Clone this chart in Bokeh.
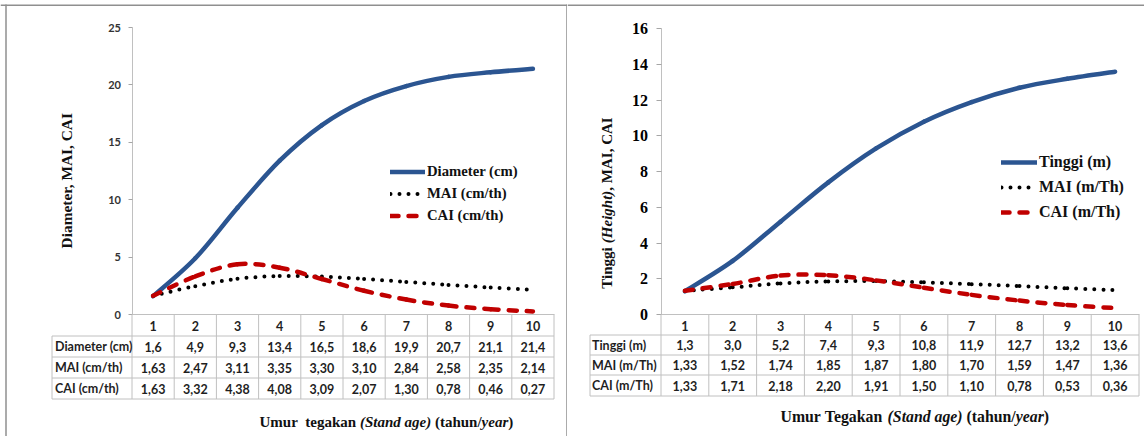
import math
from bokeh.plotting import figure
from bokeh.layouts import row
from bokeh.models import (ColumnDataSource, Range1d, FixedTicker, Label, LabelSet,
                          Arrow, Legend, LegendItem)
from bokeh.embed import file_html
from bokeh.resources import INLINE
from bokeh.core.properties import value

# ---------------- data ----------------
ages = [1, 2, 3, 4, 5, 6, 7, 8, 9, 10]

diameter = [1.6, 4.9, 9.3, 13.4, 16.5, 18.6, 19.9, 20.7, 21.1, 21.4]
mai_cm = [1.63, 2.47, 3.11, 3.35, 3.30, 3.10, 2.84, 2.58, 2.35, 2.14]
cai_cm = [1.63, 3.32, 4.38, 4.08, 3.09, 2.07, 1.30, 0.78, 0.46, 0.27]

tinggi = [1.3, 3.0, 5.2, 7.4, 9.3, 10.8, 11.9, 12.7, 13.2, 13.6]
mai_m = [1.33, 1.52, 1.74, 1.85, 1.87, 1.80, 1.70, 1.59, 1.47, 1.36]
cai_m = [1.33, 1.71, 2.18, 2.20, 1.91, 1.50, 1.10, 0.78, 0.53, 0.36]

row_labels_d = ["Diameter (cm)", "MAI (cm/th)", "CAI (cm/th)"]
row_labels_h = ["Tinggi (m)", "MAI (m/Th)", "CAI (m/Th)"]
legend_d = ["Diameter (cm)", "MAI (cm/th)", "CAI (cm/th)"]
legend_h = ["Tinggi (m)", "MAI (m/Th)", "CAI (m/Th)"]
yticks_d = [0, 5, 10, 15, 20, 25]
yticks_h = [0, 2, 4, 6, 8, 10, 12, 14, 16]

ytitle_d = [("Diameter, MAI, CAI", "bold")]
ytitle_h = [("Tinggi", "bold"), (" (Height)", "bold italic"), (", MAI, CAI", "bold")]
xtitle_d = [("Umur", "bold"), ("  tegakan", "bold"), (" (Stand age)", "bold italic"),
            (" (tahun/", "bold"), ("year", "bold italic"), (")", "bold")]
xtitle_h = [("Umur", "bold"), (" Tegakan", "bold"), (" (Stand age)", "bold italic"),
            (" (tahun/", "bold"), ("year", "bold italic"), (")", "bold")]

BLUE = "#2B5591"
RED = "#C00000"
GRID = "#c0c0c0"
BORDER = "#8f8f8f"
H = 436

# approximate Times bold / bold-italic advance widths (per 1000 em)
TB = {' ': 250, '(': 333, ')': 333, ',': 250, '/': 278, 'A': 722, 'C': 722, 'D': 722,
      'H': 778, 'I': 389, 'M': 944, 'S': 556, 'T': 667, 'U': 722, 'a': 500, 'c': 444,
      'd': 556, 'e': 444, 'g': 500, 'h': 556, 'i': 278, 'k': 556, 'm': 833, 'n': 556,
      'r': 444, 't': 333, 'u': 556, 'y': 500}
TBI = {' ': 250, '(': 333, ')': 333, 'H': 778, 'S': 556, 'a': 500, 'd': 500, 'e': 444,
       'g': 500, 'h': 556, 'i': 278, 'n': 556, 'r': 389, 't': 278, 'y': 444}


def text_width(s, style, size):
    tab = TBI if "italic" in style else TB
    return sum(tab.get(ch, 500) for ch in s) / 1000.0 * size


def place(pieces, size):
    out, off = [], 0.0
    for s, st in pieces:
        lead = len(s) - len(s.lstrip(' '))
        core = s.strip(' ')
        if core:
            out.append((off + text_width(s[:lead], st, size), core, st))
        off += text_width(s, st, size)
    return out, off


def bezier_source(xs, ys):
    n = len(xs)
    d = dict(x0=[], y0=[], x1=[], y1=[], cx0=[], cy0=[], cx1=[], cy1=[])
    for i in range(n - 1):
        a = i - 1 if i > 0 else i
        b = i + 2 if i + 2 < n else i + 1
        d["x0"].append(xs[i]); d["y0"].append(ys[i])
        d["x1"].append(xs[i + 1]); d["y1"].append(ys[i + 1])
        d["cx0"].append(xs[i] + (xs[i + 1] - xs[a]) / 6.0)
        d["cy0"].append(ys[i] + (ys[i + 1] - ys[a]) / 6.0)
        d["cx1"].append(xs[i + 1] - (xs[b] - xs[i]) / 6.0)
        d["cy1"].append(ys[i + 1] - (ys[b] - ys[i]) / 6.0)
    return ColumnDataSource(d)


def fmt(v, dec):
    return f"{v:.{dec}f}".replace(".", ",")


def build_panel(c):
    figX0, figW = c["figX0"], c["figW"]
    axX, cat = c["axX"], c["cat"]
    axY, topY, ymax = c["axY"], c["topY"], c["ymax"]
    ppu = (axY - topY) / ymax

    def X2x(X):
        return 0.5 + (X - axX) / cat

    def Y2y(Y):
        return (axY - Y) / ppu

    p = figure(width=figW, height=H, frame_width=figW, frame_height=H,
               min_border_left=0, min_border_right=0, min_border_top=0, min_border_bottom=0,
               x_range=Range1d(X2x(figX0), X2x(figX0 + figW)),
               y_range=Range1d(Y2y(H), Y2y(0)),
               output_backend="svg", toolbar_location=None,
               background_fill_color="white", border_fill_color="white",
               outline_line_color=None)
    p.xgrid.visible = False
    p.ygrid.visible = False

    # axes, fixed at the plot origin inside the frame
    p.xaxis.fixed_location = 0
    p.xaxis.bounds = (0.5, 10.5)
    p.xaxis.ticker = FixedTicker(ticks=ages)
    p.xaxis.axis_line_color = GRID
    p.xaxis.major_tick_line_color = None
    p.xaxis.minor_tick_line_color = None
    p.xaxis.major_label_standoff = c["xstand"]
    p.xaxis.major_label_text_font = "Lato"
    p.xaxis.major_label_text_font_style = "bold"
    p.xaxis.major_label_text_font_size = "12.5px"
    p.xaxis.major_label_text_color = "#1f1f1f"

    p.yaxis.fixed_location = 0.5
    p.yaxis.bounds = (0, ymax)
    p.yaxis.ticker = FixedTicker(ticks=c["yticks"])
    p.yaxis.axis_line_color = GRID
    p.yaxis.major_tick_line_color = "#a6a6a6"
    p.yaxis.major_tick_out = c["tickout"]
    p.yaxis.major_tick_in = 0
    p.yaxis.minor_tick_line_color = None
    p.yaxis.major_label_standoff = c["ystand"]
    p.yaxis.major_label_text_font = c["ytfont"]
    p.yaxis.major_label_text_font_style = "bold"
    p.yaxis.major_label_text_font_size = c["ytsize"]
    p.yaxis.major_label_text_color = c["ytcolor"]

    # curves
    s_main, s_mai, s_cai = c["series"]
    r1 = p.bezier(x0="x0", y0="y0", x1="x1", y1="y1", cx0="cx0", cy0="cy0",
                  cx1="cx1", cy1="cy1", source=bezier_source(ages, s_main),
                  line_color=BLUE, line_width=4.5, line_cap="round")
    r2 = p.bezier(x0="x0", y0="y0", x1="x1", y1="y1", cx0="cx0", cy0="cy0",
                  cx1="cx1", cy1="cy1", source=bezier_source(ages, s_mai),
                  line_color="black", line_width=4, line_dash="0 9", line_cap="round")
    r3 = p.bezier(x0="x0", y0="y0", x1="x1", y1="y1", cx0="cx0", cy0="cy0",
                  cx1="cx1", cy1="cy1", source=bezier_source(ages, s_cai),
                  line_color=RED, line_width=4.5, line_dash="8 10", line_cap="round")

    leg = Legend(items=[LegendItem(label=c["legend"][0], renderers=[r1]),
                        LegendItem(label=c["legend"][1], renderers=[r2]),
                        LegendItem(label=c["legend"][2], renderers=[r3])],
                 location=c["legloc"], orientation="vertical",
                 glyph_width=c["glw"], glyph_height=c["legh"], label_height=c["legh"],
                 label_standoff=2, spacing=1, padding=0, margin=0,
                 border_line_color=None, background_fill_alpha=0,
                 label_text_font="Liberation Serif", label_text_font_style="bold",
                 label_text_font_size=c["legsize"], label_text_color="#111111")
    p.add_layout(leg)

    # table grid
    rows_Y = c["rowsY"]
    lab_X = c["labX"]
    right_X = axX + 10 * cat
    gx0, gy0, gx1, gy1 = [], [], [], []
    for Y in rows_Y[1:]:
        gx0.append(X2x(lab_X)); gx1.append(X2x(right_X))
        gy0.append(Y2y(Y)); gy1.append(Y2y(Y))
    gx0.append(X2x(lab_X)); gx1.append(X2x(lab_X))
    gy0.append(Y2y(rows_Y[1])); gy1.append(Y2y(rows_Y[-1]))
    for k in range(11):
        X = axX + k * cat
        gx0.append(X2x(X)); gx1.append(X2x(X))
        gy0.append(Y2y(rows_Y[0])); gy1.append(Y2y(rows_Y[-1]))
    p.add_layout(Arrow(end=None, source=ColumnDataSource(dict(x0=gx0, y0=gy0, x1=gx1, y1=gy1)),
                       x_start="x0", y_start="y0", x_end="x1", y_end="y1",
                       line_color=GRID, line_width=1))

    # panel borders
    bx0 = [X2x(figX0)]
    by0 = [Y2y(4.75)]
    bx1 = [X2x(figX0 + figW)]
    by1 = [Y2y(4.75)]
    for X in c["vborders"]:
        bx0.append(X2x(X)); bx1.append(X2x(X))
        by0.append(Y2y(4)); by1.append(Y2y(H))
    p.add_layout(Arrow(end=None, source=ColumnDataSource(dict(x0=bx0, y0=by0, x1=bx1, y1=by1)),
                       x_start="x0", y_start="y0", x_end="x1", y_end="y1",
                       line_color=BORDER, line_width=1.5))

    # table texts
    tx, ty, tt = [], [], []
    for r, (vals, dec) in enumerate(zip(c["series"], c["decimals"])):
        yc = Y2y((rows_Y[r + 1] + rows_Y[r + 2]) / 2.0)
        for a, v in zip(ages, vals):
            tx.append(a); ty.append(yc); tt.append(fmt(v, dec))
    p.add_layout(LabelSet(x="x", y="y", text="t",
                          source=ColumnDataSource(dict(x=tx, y=ty, t=tt)),
                          text_align="center", text_baseline="middle",
                          text_font=value("Lato"), text_font_style="bold",
                          text_font_size="12.5px", text_color="#1f1f1f"))
    lx, ly = [], []
    for r in range(3):
        lx.append(X2x(c["labTX"]))
        ly.append(Y2y((rows_Y[r + 1] + rows_Y[r + 2]) / 2.0))
    p.add_layout(LabelSet(x="x", y="y", text="t",
                          source=ColumnDataSource(dict(x=lx, y=ly, t=c["rowlabels"])),
                          text_align="left", text_baseline="middle",
                          text_font=value("Lato"), text_font_style="bold",
                          text_font_size="12.5px", text_color="#1f1f1f"))

    # x title
    pcs, total = place(c["xtitle"], c["xtsize"])
    for off, s, st in pcs:
        p.add_layout(Label(x=X2x(c["xtX"] + off), y=Y2y(c["xtY"]), text=s,
                           text_align="left", text_baseline="middle",
                           text_font="Liberation Serif", text_font_style=st,
                           text_font_size=f"{c['xtsize']}px", text_color="#111111"))
    # y title (rotated)
    pcs, total = place(c["ytitle"], c["ytsz"])
    startY = c["ytY"] + total / 2.0
    for off, s, st in pcs:
        p.add_layout(Label(x=X2x(c["ytX"]), y=Y2y(startY - off), text=s, angle=math.pi / 2,
                           text_align="left", text_baseline="middle",
                           text_font="Liberation Serif", text_font_style=st,
                           text_font_size=f"{c['ytsz']}px", text_color="#111111"))
    return p


cfg_left = dict(figX0=0, figW=567, axX=131.5, cat=42.2, axY=314, topY=27, ymax=25,
                yticks=yticks_d, series=(diameter, mai_cm, cai_cm), decimals=(1, 2, 2),
                rowlabels=row_labels_d, legend=legend_d,
                xstand=0, tickout=4, ystand=7, ytfont="Lato", ytsize="11px", ytcolor="#333333",
                legloc=(390, 210), glw=35, legh=21, legsize="14.7px",
                rowsY=[314, 335.5, 356.5, 377.5, 398.5], labX=51.5, labTX=54.5,
                xtitle=xtitle_d, xtsize=15, xtX=259, xtY=421.5,
                ytitle=ytitle_d, ytsz=15.4, ytX=65.7, ytY=179.5,
                vborders=[5.5, 566.5])

cfg_right = dict(figX0=567, figW=577, axX=660.5, cat=47.8, axY=314, topY=28.3, ymax=16,
                 yticks=yticks_h, series=(tinggi, mai_m, cai_m), decimals=(1, 2, 2),
                 rowlabels=row_labels_h, legend=legend_h,
                 xstand=0, tickout=5, ystand=8, ytfont="Liberation Serif", ytsize="16px",
                 ytcolor="#000000",
                 legloc=(434, 212), glw=36, legh=24, legsize="16px",
                 rowsY=[314, 334.5, 354.5, 374.5, 395.5], labX=589.5, labTX=591.5,
                 xtitle=xtitle_h, xtsize=15.8, xtX=780, xtY=416,
                 ytitle=ytitle_h, ytsz=15, ytX=606.7, ytY=202.5,
                 vborders=[])

p1 = build_panel(cfg_left)
p2 = build_panel(cfg_right)
layout = row(p1, p2)

open("out.html", "w").write(file_html(layout, INLINE))
